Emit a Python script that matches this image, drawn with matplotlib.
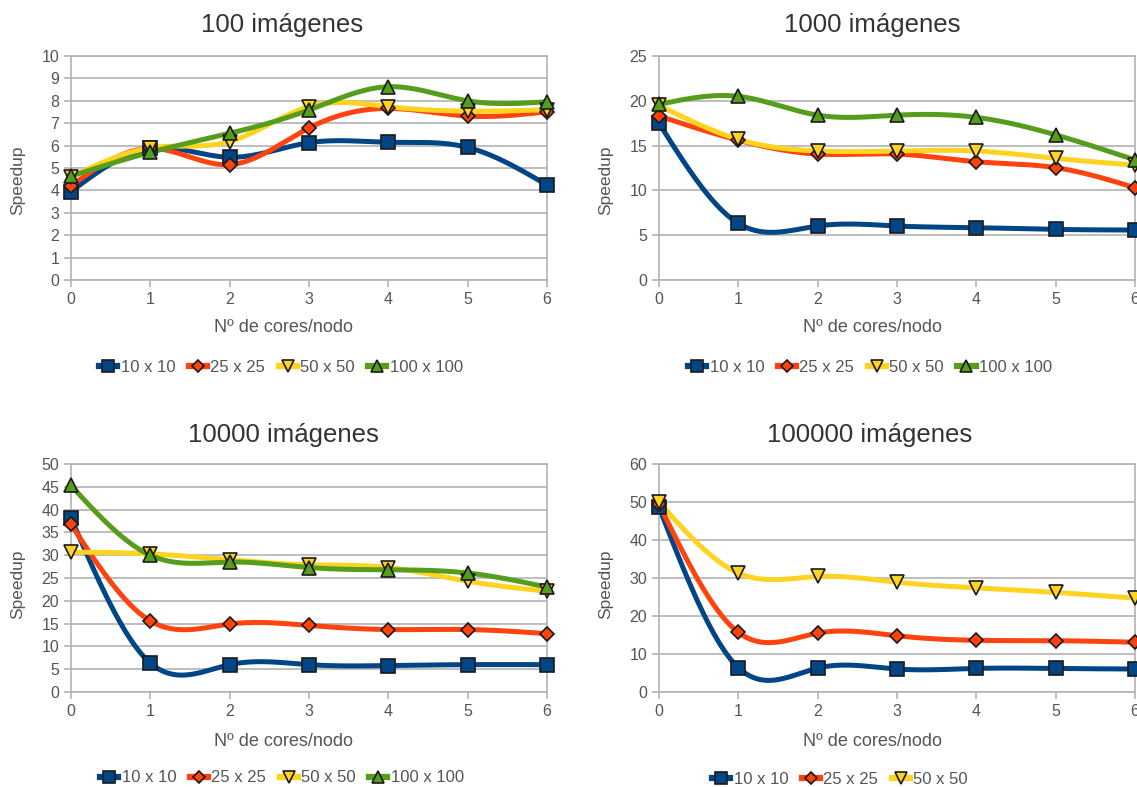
import numpy as np
import matplotlib.pyplot as plt

plt.rcParams['font.family'] = ['Liberation Sans', 'DejaVu Sans']

# number of cores per node (x axis of every panel)
cores = [0, 1, 2, 3, 4, 5, 6]

series_names = ['10 x 10', '25 x 25', '50 x 50', '100 x 100']

# speedup per image set, one list per block size
speedup_100 = [
    [3.95, 5.88, 5.48, 6.13, 6.15, 5.92, 4.24],
    [4.21, 5.88, 5.15, 6.79, 7.66, 7.32, 7.51],
    [4.60, 5.90, 6.18, 7.74, 7.74, 7.54, 7.60],
    [4.64, 5.70, 6.55, 7.59, 8.63, 8.00, 7.96],
]
speedup_1000 = [
    [17.5, 6.32, 6.03, 6.03, 5.84, 5.65, 5.58],
    [18.3, 15.6, 14.06, 14.06, 13.2, 12.54, 10.3],
    [19.5, 15.7, 14.4, 14.4, 14.4, 13.58, 12.83],
    [19.6, 20.5, 18.4, 18.4, 18.15, 16.2, 13.4],
]
speedup_10000 = [
    [38.2, 6.36, 6.0, 6.0, 5.8, 6.0, 6.0],
    [36.8, 15.6, 14.9, 14.6, 13.7, 13.7, 12.8],
    [30.7, 30.3, 29.0, 27.9, 27.3, 24.3, 22.1],
    [45.3, 30.0, 28.5, 27.3, 26.8, 26.1, 23.0],
]
speedup_100000 = [
    [48.6, 6.4, 6.3, 6.05, 6.2, 6.2, 6.05],
    [49.5, 15.7, 15.5, 14.8, 13.6, 13.5, 13.1],
    [50.0, 31.3, 30.4, 28.9, 27.4, 26.2, 24.7],
]

titles = ['100 imágenes', '1000 imágenes', '10000 imágenes', '100000 imágenes']
ymax = [10, 25, 50, 60]
ystep = [1, 5, 5, 10]

colors = ['#004586', '#ff420e', '#ffd320', '#579d1c']
markers = ['s', 'D', 'v', '^']
msizes = [10, 7.5, 10, 10]

grid_col = '#b3b3b3'
text_col = '#555555'


def natural_spline(x, y, n=300):
    """Natural cubic spline through the points, for the smoothed lines."""
    x = np.asarray(x, float)
    y = np.asarray(y, float)
    k = len(x)
    h = np.diff(x)
    A = np.zeros((k, k))
    b = np.zeros(k)
    A[0, 0] = A[-1, -1] = 1
    for i in range(1, k - 1):
        A[i, i - 1] = h[i - 1]
        A[i, i] = 2 * (h[i - 1] + h[i])
        A[i, i + 1] = h[i]
        b[i] = 6 * ((y[i + 1] - y[i]) / h[i] - (y[i] - y[i - 1]) / h[i - 1])
    M = np.linalg.solve(A, b)
    xs = np.linspace(x[0], x[-1], n)
    idx = np.clip(np.searchsorted(x, xs) - 1, 0, k - 2)
    x0, x1 = x[idx], x[idx + 1]
    hh = x1 - x0
    t0 = x1 - xs
    t1 = xs - x0
    ys = (M[idx] * t0 ** 3 + M[idx + 1] * t1 ** 3) / (6 * hh) \
        + (y[idx] / hh - M[idx] * hh / 6) * t0 \
        + (y[idx + 1] / hh - M[idx + 1] * hh / 6) * t1
    return xs, ys


fig = plt.figure(figsize=(11.37, 7.87), dpi=100)

# panel boxes in figure coordinates: left, bottom, width, height
boxes = [
    [0.0624, 0.6442, 0.4187, 0.2846],
    [0.5796, 0.6442, 0.4187, 0.2846],
    [0.0624, 0.1207, 0.4187, 0.2897],
    [0.5796, 0.1207, 0.4187, 0.2897],
]
title_pos = [(282, 25), (872, 25), (283, 435), (870, 435)]
legend_pos = [(281, 367), (870, 367), (282, 778), (840, 779)]
ylabel_pos = [(18, 180), (606, 180), (18, 584), (606, 584)]
xlabel_y = [328, 328, 741, 741]

all_data = [speedup_100, speedup_1000, speedup_10000, speedup_100000]

W, H = 1137, 787
for p, data in enumerate(all_data):
    ax = fig.add_axes(boxes[p])
    handles = []
    for s, vals in enumerate(data):
        xs, ys = natural_spline(cores, vals)
        ax.plot(xs, ys, color=colors[s], lw=3.6, solid_capstyle='round',
                zorder=2 + s, clip_on=False)
        ax.plot(cores, vals, linestyle='none', marker=markers[s],
                ms=msizes[s], mfc=colors[s], mec='#1a1a1a', mew=1.2,
                zorder=10 + s, clip_on=False)
        h, = ax.plot([], [], color=colors[s], lw=4.5, marker=markers[s],
                     ms=msizes[s] * 0.8, mfc=colors[s], mec='#1a1a1a', mew=1.2)
        handles.append(h)

    ax.set_xlim(0, 6)
    ax.set_ylim(0, ymax[p])
    ax.set_xticks(cores)
    ax.set_yticks(np.arange(0, ymax[p] + 0.1, ystep[p]))
    ax.yaxis.grid(True, color=grid_col, lw=1.2)
    ax.set_axisbelow(True)
    for sp in ax.spines.values():
        sp.set_color(grid_col)
        sp.set_linewidth(1.2)
    ax.tick_params(colors=grid_col, labelcolor=text_col, labelsize=11.5,
                   length=5, width=1.2)

    fig.text(title_pos[p][0] / W, 1 - title_pos[p][1] / H, titles[p],
             ha='center', va='center', fontsize=18.5, color='#333333')
    fig.text(ylabel_pos[p][0] / W, 1 - ylabel_pos[p][1] / H,
             'Speedup', rotation=90, ha='center', va='center',
             fontsize=12.5, color=text_col)
    fig.text(boxes[p][0] + boxes[p][2] / 2 - 0.022, 1 - xlabel_y[p] / H,
             'Nº de cores/nodo', ha='center', va='center',
             fontsize=13, color=text_col)
    fig.legend(handles, series_names[:len(data)], loc='center',
               bbox_to_anchor=(legend_pos[p][0] / W, 1 - legend_pos[p][1] / H),
               ncol=len(data), frameon=False, fontsize=12,
               handlelength=1.1, handletextpad=0.2, columnspacing=0.8,
               labelcolor=text_col)

fig.savefig('out.png', dpi=100)
